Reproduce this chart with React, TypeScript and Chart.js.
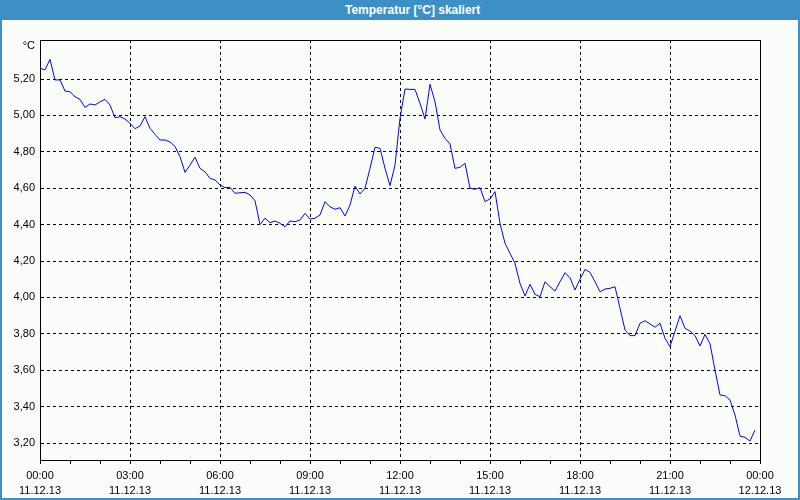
import React, { useEffect, useRef } from 'react';
import { Chart, registerables } from 'chart.js';

Chart.register(...registerables);

// Temperature readings every 10 minutes, 11.12.13 00:00 .. 23:50
const temps: number[] = [
  5.259, 5.25, 5.308, 5.195, 5.195, 5.134, 5.13, 5.103, 5.088, 5.044,
  5.063, 5.057, 5.075, 5.088, 5.057, 4.987, 4.993, 4.98, 4.957, 4.927,
  4.942, 4.993, 4.929, 4.896, 4.865, 4.865, 4.854, 4.83, 4.773, 4.687,
  4.727, 4.77, 4.709, 4.69, 4.654, 4.645, 4.618, 4.603, 4.605, 4.572,
  4.575, 4.577, 4.563, 4.531, 4.4, 4.435, 4.41, 4.42, 4.407, 4.388,
  4.42, 4.416, 4.425, 4.462, 4.43, 4.435, 4.453, 4.526, 4.498, 4.484,
  4.493, 4.447, 4.508, 4.612, 4.568, 4.6, 4.709, 4.825, 4.819, 4.709,
  4.614, 4.727, 4.984, 5.145, 5.143, 5.143, 5.066, 4.98, 5.171, 5.075,
  4.92, 4.874, 4.843, 4.709, 4.715, 4.737, 4.6, 4.594, 4.603, 4.526,
  4.541, 4.581, 4.407, 4.297, 4.242, 4.187, 4.077, 4.008, 4.072, 4.017,
  4.004, 4.086, 4.059, 4.035, 4.086, 4.136, 4.108, 4.041, 4.1, 4.154,
  4.138, 4.086, 4.031, 4.046, 4.05, 4.059, 3.94, 3.821, 3.79, 3.79,
  3.858, 3.872, 3.854, 3.836, 3.858, 3.775, 3.729, 3.815, 3.899, 3.83,
  3.815, 3.79, 3.733, 3.797, 3.745, 3.601, 3.464, 3.46, 3.436, 3.354,
  3.238, 3.231, 3.211, 3.271,
];
const sampleStepHours = 10 / 60;

const yMin = 3.1066;
const yMax = 5.4143;
const yTicks = [3.2, 3.4, 3.6, 3.8, 4.0, 4.2, 4.4, 4.6, 4.8, 5.0, 5.2];

const xMin = 0;
const xMax = 24;
const xTickHours = [0, 1, 2, 3, 4, 5, 6, 7, 8, 9, 10, 11, 12, 13, 14, 15, 16, 17, 18, 19, 20, 21, 22, 23, 24];
const xMajorHours = [0, 3, 6, 9, 12, 15, 18, 21, 24];
const xLabelTimes = ['00:00', '03:00', '06:00', '09:00', '12:00', '15:00', '18:00', '21:00', '00:00'];
const xLabelDates = ['11.12.13', '11.12.13', '11.12.13', '11.12.13', '11.12.13', '11.12.13', '11.12.13', '11.12.13', '12.12.13'];

const title = 'Temperatur [°C] skaliert';
const unitLabel = '°C';

const FONT = '"Liberation Sans", Arial, sans-serif';
const BLUE = '#3d90c5';

export default function App() {
  const ref = useRef<HTMLCanvasElement>(null);

  useEffect(() => {
    if (!ref.current) return;
    const framePlugin = {
      id: 'frame',
      afterDraw(chart: any) {
        const { ctx, chartArea: a } = chart;
        ctx.save();
        ctx.strokeStyle = '#000';
        ctx.lineWidth = 1;
        ctx.setLineDash([]);
        ctx.strokeRect(a.left + 0.5, a.top + 0.5, a.right - a.left, a.bottom - a.top);
        ctx.fillStyle = '#000';
        ctx.font = `11px ${FONT}`;
        ctx.textAlign = 'right';
        ctx.textBaseline = 'middle';
        ctx.fillText(unitLabel, a.left - 5, a.top + 6);
        ctx.restore();
      },
    };

    const chart = new Chart(ref.current, {
      type: 'line',
      data: {
        datasets: [
          {
            data: temps.map((t, i) => ({ x: i * sampleStepHours, y: t })),
            borderColor: '#0000ff',
            borderWidth: 1,
            pointRadius: 0,
            tension: 0,
            fill: false,
          },
        ],
      },
      options: {
        animation: false,
        responsive: false,
        events: [],
        layout: { padding: { top: 40, right: 40, left: 0, bottom: 0 } },
        plugins: {
          legend: { display: false },
          tooltip: { enabled: false },
          title: { display: false },
        },
        scales: {
          x: {
            type: 'linear',
            min: xMin,
            max: xMax,
            afterBuildTicks: (s: any) => {
              s.ticks = xTickHours.map((v) => ({ value: v }));
            },
            afterFit: (s: any) => {
              s.height = 40;
            },
            grid: {
              color: (c: any) =>
                c.tick && xMajorHours.includes(c.tick.value) ? '#000' : 'rgba(0,0,0,0)',
              lineWidth: 1,
              drawTicks: true,
              tickLength: 4,
              tickColor: '#000',
              tickBorderDash: [],
            },
            border: { display: true, color: '#000', dash: [3, 3] },
            ticks: {
              autoSkip: false,
              maxRotation: 0,
              minRotation: 0,
              padding: 4,
              color: '#000',
              font: { family: FONT, size: 11, lineHeight: 15 / 11 },
              callback: (v: any) => {
                const idx = xMajorHours.indexOf(Number(v));
                return idx >= 0 ? [xLabelTimes[idx], xLabelDates[idx]] : '';
              },
            },
          },
          y: {
            type: 'linear',
            min: yMin,
            max: yMax,
            afterBuildTicks: (s: any) => {
              s.ticks = yTicks.map((v) => ({ value: v }));
            },
            afterFit: (s: any) => {
              s.width = 40;
            },
            grid: {
              color: '#000',
              lineWidth: 1,
              drawTicks: false,
            },
            border: { display: true, color: '#000', dash: [3, 3] },
            ticks: {
              padding: 5,
              color: '#000',
              font: { family: FONT, size: 11 },
              callback: (v: any) => Number(v).toFixed(2).replace('.', ','),
            },
          },
        },
      },
      plugins: [framePlugin],
    } as any);
    return () => chart.destroy();
  }, []);

  return (
    <div
      style={{
        position: 'fixed',
        left: 0,
        top: 0,
        width: 800,
        height: 500,
        background: '#fbfdfb',
        overflow: 'hidden',
      }}
    >
      <div
        style={{
          position: 'absolute',
          left: 0,
          top: 0,
          width: 800,
          height: 20,
          background: BLUE,
        }}
      />
      <div
        style={{
          position: 'absolute',
          left: 345,
          top: 0,
          height: 20,
          lineHeight: '20px',
          color: '#fff',
          fontFamily: FONT,
          fontWeight: 'bold',
          fontSize: 12,
          whiteSpace: 'nowrap',
        }}
      >
        {title}
      </div>
      <div style={{ position: 'absolute', left: 0, top: 20, width: 2, height: 480, background: BLUE }} />
      <div style={{ position: 'absolute', right: 0, top: 20, width: 2, height: 480, background: BLUE }} />
      <div style={{ position: 'absolute', left: 0, bottom: 0, width: 800, height: 2, background: BLUE }} />
      <canvas
        ref={ref}
        width={800}
        height={500}
        style={{ position: 'absolute', left: 0, top: 0, width: 800, height: 500 }}
      />
    </div>
  );
}
